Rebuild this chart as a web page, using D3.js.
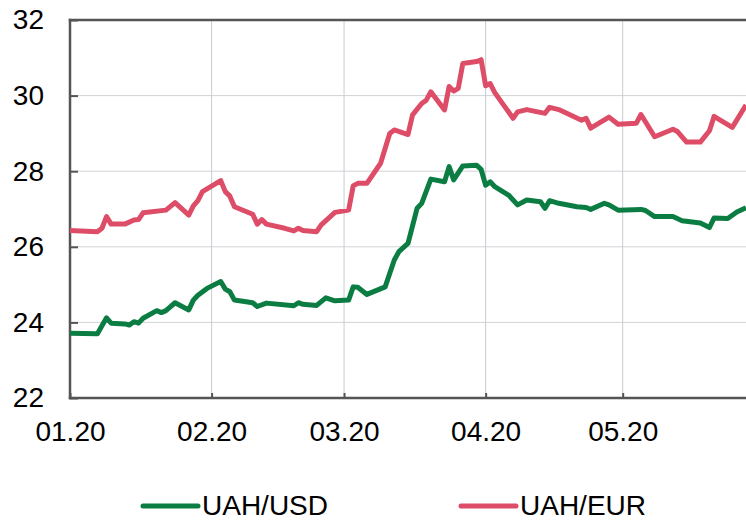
<!DOCTYPE html>
<html>
<head>
  <meta charset="utf-8">
  <script src="https://cdn.jsdelivr.net/npm/d3@7"></script>
  <style>
    body { margin: 0; background: #fff; }
    text { font-family: "Liberation Sans", Arial, sans-serif; fill: #000; }
  </style>
</head>
<body>
  <svg id="chart" width="746" height="521"></svg>
  <script>
    // UAH/USD, NBU official rate
    let usdDates = ["2020-01-01", "2020-01-07", "2020-01-09", "2020-01-10", "2020-01-13", "2020-01-14",
      "2020-01-15", "2020-01-16", "2020-01-17", "2020-01-20", "2020-01-21", "2020-01-22", "2020-01-24",
      "2020-01-27", "2020-01-28", "2020-01-29", "2020-01-31", "2020-02-03", "2020-02-04", "2020-02-05",
      "2020-02-06", "2020-02-10", "2020-02-11", "2020-02-13", "2020-02-19", "2020-02-20", "2020-02-21",
      "2020-02-24", "2020-02-25", "2020-02-26", "2020-02-28", "2020-03-02", "2020-03-03", "2020-03-04",
      "2020-03-06", "2020-03-10", "2020-03-12", "2020-03-13", "2020-03-15", "2020-03-17", "2020-03-18",
      "2020-03-20", "2020-03-23", "2020-03-24", "2020-03-25", "2020-03-27", "2020-03-30", "2020-03-31",
      "2020-04-01", "2020-04-02", "2020-04-03", "2020-04-06", "2020-04-08", "2020-04-10", "2020-04-13",
      "2020-04-14", "2020-04-15", "2020-04-17", "2020-04-21", "2020-04-23", "2020-04-24", "2020-04-27",
      "2020-04-28", "2020-04-30", "2020-05-05", "2020-05-06", "2020-05-08", "2020-05-12", "2020-05-14",
      "2020-05-18", "2020-05-20", "2020-05-21", "2020-05-24", "2020-05-26", "2020-05-28"]
    let usdValues = [23.71, 23.70, 24.12, 23.98, 23.96, 23.93,
      24.02, 23.98, 24.11, 24.31, 24.26, 24.31, 24.52,
      24.33, 24.59, 24.72, 24.90, 25.08, 24.88, 24.81,
      24.59, 24.52, 24.42, 24.51, 24.44, 24.52, 24.48,
      24.45, 24.55, 24.65, 24.57, 24.59, 24.94, 24.93,
      24.74, 24.94, 25.65, 25.87, 26.09, 27.02, 27.15,
      27.79, 27.72, 28.12, 27.77, 28.14, 28.16, 28.05,
      27.63, 27.72, 27.59, 27.37, 27.11, 27.24, 27.19,
      27.02, 27.22, 27.15, 27.06, 27.04, 26.99, 27.15,
      27.11, 26.97, 26.99, 26.96, 26.80, 26.80, 26.69,
      26.63, 26.51, 26.76, 26.75, 26.92, 27.03]

    // UAH/EUR
    let eurDates = ["2020-01-01", "2020-01-07", "2020-01-08", "2020-01-09", "2020-01-10", "2020-01-13",
      "2020-01-15", "2020-01-16", "2020-01-17", "2020-01-22", "2020-01-24", "2020-01-27", "2020-01-28",
      "2020-01-29", "2020-01-30", "2020-02-03", "2020-02-04", "2020-02-05", "2020-02-06", "2020-02-10",
      "2020-02-11", "2020-02-12", "2020-02-13", "2020-02-17", "2020-02-19", "2020-02-20", "2020-02-21",
      "2020-02-24", "2020-02-25", "2020-02-28", "2020-03-02", "2020-03-03", "2020-03-04", "2020-03-06",
      "2020-03-09", "2020-03-11", "2020-03-12", "2020-03-15", "2020-03-16", "2020-03-18", "2020-03-19",
      "2020-03-20", "2020-03-23", "2020-03-24", "2020-03-25", "2020-03-26", "2020-03-27", "2020-03-30",
      "2020-03-31", "2020-04-01", "2020-04-02", "2020-04-03", "2020-04-07", "2020-04-08", "2020-04-10",
      "2020-04-14", "2020-04-15", "2020-04-17", "2020-04-22", "2020-04-23", "2020-04-24", "2020-04-28",
      "2020-04-30", "2020-05-04", "2020-05-05", "2020-05-08", "2020-05-12", "2020-05-13", "2020-05-15",
      "2020-05-18", "2020-05-20", "2020-05-21", "2020-05-25", "2020-05-28"]
    let eurValues = [26.43, 26.40, 26.49, 26.80, 26.60, 26.60,
      26.71, 26.72, 26.90, 26.97, 27.17, 26.84, 27.08,
      27.22, 27.46, 27.75, 27.46, 27.34, 27.06, 26.86,
      26.60, 26.72, 26.60, 26.49, 26.42, 26.49, 26.43,
      26.40, 26.58, 26.91, 26.97, 27.61, 27.68, 27.68,
      28.21, 29.00, 29.09, 28.97, 29.49, 29.79, 29.88,
      30.10, 29.62, 30.24, 30.12, 30.19, 30.85, 30.90,
      30.95, 30.26, 30.32, 30.08, 29.40, 29.57, 29.63,
      29.53, 29.69, 29.63, 29.35, 29.40, 29.14, 29.43,
      29.24, 29.27, 29.50, 28.91, 29.11, 29.05, 28.77,
      28.77, 29.07, 29.45, 29.16, 29.75]

    let monthTicks = ["2020-01-01", "2020-02-01", "2020-03-01", "2020-04-01", "2020-05-01"]
    let yTicks = [22, 24, 26, 28, 30, 32]
    let seriesNames = ["UAH/USD", "UAH/EUR"]
    let colors = ["#0b7d42", "#de4d68"]

    let parse = d3.timeParse("%Y-%m-%d")
    let x0 = 70, y0 = 20, x1 = 746, y1 = 398

    let scX = d3.scaleTime()
                .domain([parse("2020-01-01"), parse("2020-05-28")])
                .range([x0, x1])
    let scY = d3.scaleLinear()
                .domain([22, 32])
                .range([y1, y0])

    let svg = d3.select("#chart")

    // grid
    svg.append("g")
       .selectAll("line")
       .data(yTicks.slice(1, -1))
       .join("line")
       .attr("x1", x0).attr("x2", x1)
       .attr("y1", d => scY(d)).attr("y2", d => scY(d))
       .attr("stroke", "#d0d3d7").attr("stroke-width", 1)
    svg.append("g")
       .selectAll("line")
       .data(monthTicks.slice(1))
       .join("line")
       .attr("x1", d => scX(parse(d))).attr("x2", d => scX(parse(d)))
       .attr("y1", y0).attr("y2", y1)
       .attr("stroke", "#c8ccd0").attr("stroke-width", 1)

    // axes
    let yAxis = d3.axisLeft(scY)
                  .tickValues(yTicks)
                  .tickSize(-8)
                  .tickPadding(26)
                  .tickFormat(d3.format("d"))
    svg.append("g")
       .attr("transform", `translate(${x0},0)`)
       .call(yAxis)
       .call(g => g.select(".domain").remove())
       .call(g => g.selectAll(".tick line").attr("stroke", "#555").attr("stroke-width", 2))
       .call(g => g.selectAll(".tick text").attr("font-size", 28)
                   .attr("font-family", "Liberation Sans, Arial, sans-serif"))

    let xAxis = d3.axisBottom(scX)
                  .tickValues(monthTicks.map(parse))
                  .tickSize(-5)
                  .tickPadding(23)
                  .tickFormat(d3.timeFormat("%m.%y"))
    svg.append("g")
       .attr("transform", `translate(0,${y1})`)
       .call(xAxis)
       .call(g => g.select(".domain").remove())
       .call(g => g.selectAll(".tick line").attr("stroke", "#555").attr("stroke-width", 2))
       .call(g => g.selectAll(".tick text").attr("font-size", 28)
                   .attr("font-family", "Liberation Sans, Arial, sans-serif"))

    // frame lines: left, top, bottom
    let frame = [[x0, y0, x0, y1], [x0, y0, x1, y0], [x0, y1, x1, y1]]
    svg.append("g")
       .selectAll("line")
       .data(frame)
       .join("line")
       .attr("x1", d => d[0]).attr("y1", d => d[1])
       .attr("x2", d => d[2]).attr("y2", d => d[3])
       .attr("stroke", "#555").attr("stroke-width", 2.5)
       .attr("stroke-linecap", "square")

    // series
    let series = [
      usdDates.map((d, i) => [parse(d), usdValues[i]]),
      eurDates.map((d, i) => [parse(d), eurValues[i]])
    ]
    let line = d3.line()
                 .x(d => scX(d[0]))
                 .y(d => scY(d[1]))
    svg.append("g")
       .selectAll("path")
       .data(series)
       .join("path")
       .attr("d", line)
       .attr("fill", "none")
       .attr("stroke", (d, i) => colors[i])
       .attr("stroke-width", 5)
       .attr("stroke-linejoin", "round")

    // legend
    let legX = [143, 461]
    let lg = svg.append("g")
                .selectAll("g")
                .data(seriesNames)
                .join("g")
                .attr("transform", (d, i) => `translate(${legX[i]},506)`)
    lg.append("line")
      .attr("x1", 0).attr("x2", 55)
      .attr("stroke", (d, i) => colors[i])
      .attr("stroke-width", 5)
      .attr("stroke-linecap", "round")
    lg.append("text")
      .attr("x", 59)
      .attr("y", 9)
      .attr("font-size", 28)
      .text(d => d)
  </script>
</body>
</html>
